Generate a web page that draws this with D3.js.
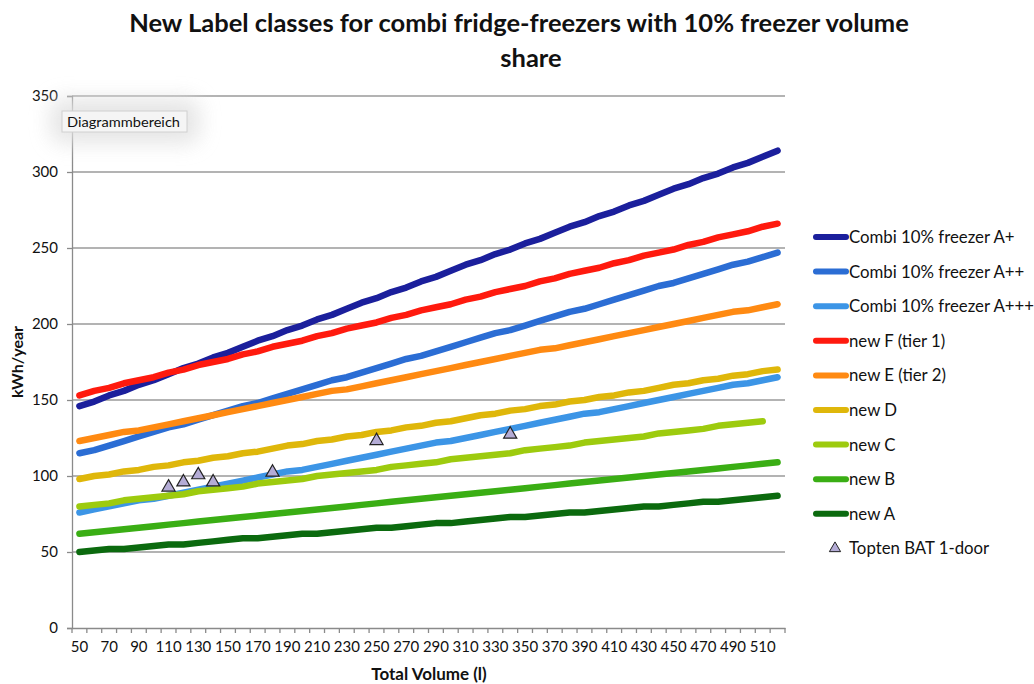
<!DOCTYPE html>
<html>
<head>
<meta charset="utf-8">
<script src="https://cdn.jsdelivr.net/npm/d3@7"></script>
<style>
  body { margin: 0; background: #fff; }
  text { font-family: Lato, "Open Sans", sans-serif; fill: #111; }
</style>
</head>
<body>
<svg id="chart" width="1034" height="684"></svg>
<script>
// categories: total volume in litres, 50..520
const volumes = d3.range(50, 521, 10);

const seriesNames = ['Combi 10% freezer A+', 'Combi 10% freezer A++', 'Combi 10% freezer A+++',
  'new F (tier 1)', 'new E (tier 2)', 'new D', 'new C', 'new B', 'new A'];

const comboAplus = [146,149,153,156,160,163,167,171,174,178,181,185,189,192,196,199,203,206,210,214,217,221,224,228,231,235,239,242,246,249,253,256,260,264,267,271,274,278,281,285,289,292,296,299,303,306,310,314];
const comboA2plus = [115,117,120,123,126,129,132,134,137,140,143,146,148,151,154,157,160,163,165,168,171,174,177,179,182,185,188,191,194,196,199,202,205,208,210,213,216,219,222,225,227,230,233,236,239,241,244,247];
const comboA3plus = [76,78,80,82,84,85,87,89,91,93,95,97,99,101,103,104,106,108,110,112,114,116,118,120,122,123,125,127,129,131,133,135,137,139,141,142,144,146,148,150,152,154,156,158,160,161,163,165];
const newF = [153,156,158,161,163,165,168,170,173,175,177,180,182,185,187,189,192,194,197,199,201,204,206,209,211,213,216,218,221,223,225,228,230,233,235,237,240,242,245,247,249,252,254,257,259,261,264,266];
const newE = [123,125,127,129,130,132,134,136,138,140,142,144,146,148,150,152,154,156,157,159,161,163,165,167,169,171,173,175,177,179,181,183,184,186,188,190,192,194,196,198,200,202,204,206,208,209,211,213];
const newD = [98,100,101,103,104,106,107,109,110,112,113,115,116,118,120,121,123,124,126,127,129,130,132,133,135,136,138,140,141,143,144,146,147,149,150,152,153,155,156,158,160,161,163,164,166,167,169,170];
// new C stops at 510 l
const newC = [80,81,82,84,85,86,87,88,90,91,92,93,95,96,97,98,100,101,102,103,104,106,107,108,109,111,112,113,114,115,117,118,119,120,122,123,124,125,126,128,129,130,131,133,134,135,136,null];
const newB = [62,63,64,65,66,67,68,69,70,71,72,73,74,75,76,77,78,79,80,81,82,83,84,85,86,87,88,89,90,91,92,93,94,95,96,97,98,99,100,101,102,103,104,105,106,107,108,109];
const newA = [50,51,52,52,53,54,55,55,56,57,58,59,59,60,61,62,62,63,64,65,66,66,67,68,69,69,70,71,72,73,73,74,75,76,76,77,78,79,80,80,81,82,83,83,84,85,86,87];

const seriesValues = [comboAplus, comboA2plus, comboA3plus, newF, newE, newD, newC, newB, newA];
const seriesColors = ['#1b1f9c', '#2b6dd4', '#3c95e6', '#ff1a0e', '#ff8a12', '#dfb70a', '#9dcb0e', '#3aae14', '#0b6a0e'];

// Topten BAT 1-door products
const toptenVolumes = [110, 120, 130, 140, 180, 250, 340];
const toptenValues = [92.6, 96, 100.7, 96, 102.4, 123.2, 127.4];

const yTicks = [0, 50, 100, 150, 200, 250, 300, 350];

const svg = d3.select('#chart');
const plotLeft = 72, plotRight = 785, plotTop = 96, plotBottom = 628;

const x = d3.scaleBand().domain(volumes).range([plotLeft, plotRight]);
const y = d3.scaleLinear().domain([0, 350]).range([plotBottom, plotTop]);
const cx = v => x(v) + x.bandwidth() / 2;

// title
svg.append('text').attr('x', 519).attr('y', 32).attr('text-anchor', 'middle')
  .attr('font-size', 25.5).attr('font-weight', 'bold')
  .text('New Label classes for combi fridge-freezers with 10% freezer volume');
svg.append('text').attr('x', 531).attr('y', 67).attr('text-anchor', 'middle')
  .attr('font-size', 25.5).attr('font-weight', 'bold').text('share');

// grid lines
svg.append('g').selectAll('line').data(yTicks.slice(1)).enter().append('line')
  .attr('x1', plotLeft).attr('x2', plotRight)
  .attr('y1', d => y(d)).attr('y2', d => y(d))
  .attr('stroke', '#9a9a9a').attr('stroke-width', 1.3);

// y axis
const yAxis = d3.axisLeft(y).tickValues(yTicks).tickSize(5).tickPadding(9);
const gy = svg.append('g').attr('transform', `translate(${plotLeft},0)`).call(yAxis);
gy.select('.domain').attr('stroke', '#8a8a8a').attr('stroke-width', 1.3);
gy.selectAll('.tick line').attr('stroke', '#8a8a8a').attr('stroke-width', 1.3);
gy.selectAll('.tick text').attr('font-size', 15).attr('font-family', 'Lato').attr('fill', '#111');

// x axis
const xAxis = d3.axisBottom(x).tickSize(0).tickPadding(13).tickSizeOuter(0)
  .tickFormat(d => ((d - 50) % 20 === 0 && d <= 510) ? d : '');
const gx = svg.append('g').attr('transform', `translate(0,${plotBottom})`).call(xAxis);
gx.select('.domain').attr('stroke', '#8a8a8a').attr('stroke-width', 1.3);
gx.selectAll('.tick text').attr('font-size', 15).attr('font-family', 'Lato').attr('fill', '#111');
// tick marks on the category boundaries
gx.append('g').selectAll('line').data(volumes.concat([null])).enter().append('line')
  .attr('x1', d => d === null ? plotRight : x(d)).attr('x2', d => d === null ? plotRight : x(d))
  .attr('y1', 0).attr('y2', 5).attr('stroke', '#8a8a8a').attr('stroke-width', 1.3);

// axis titles
svg.append('text').attr('transform', 'translate(23,362) rotate(-90)').attr('text-anchor', 'middle')
  .attr('font-size', 16).attr('font-weight', 'bold').text('kWh/year');
svg.append('text').attr('x', 429).attr('y', 680).attr('text-anchor', 'middle')
  .attr('font-size', 17).attr('font-weight', 'bold').text('Total Volume (l)');

// series lines
const line = d3.line()
  .defined(d => d.v !== null)
  .x(d => cx(d.vol))
  .y(d => y(d.v));

svg.append('g').selectAll('path').data(seriesValues).enter().append('path')
  .attr('d', vals => line(vals.map((v, i) => ({ vol: volumes[i], v: v }))))
  .attr('fill', 'none')
  .attr('stroke', (d, i) => seriesColors[i])
  .attr('stroke-width', 6.5)
  .attr('stroke-linecap', 'round')
  .attr('stroke-linejoin', 'round');

// Topten markers
const tri = d3.symbol().type(d3.symbolTriangle).size(75);
svg.append('g').selectAll('path').data(toptenValues).enter().append('path')
  .attr('d', tri)
  .attr('transform', (d, i) => `translate(${cx(toptenVolumes[i])},${y(d)})`)
  .attr('fill', '#b4acd6').attr('stroke', '#222').attr('stroke-width', 1.2);

// legend
const legend = svg.append('g');
seriesNames.forEach((name, i) => {
  const ly = 237 + i * 34.6;
  legend.append('line').attr('x1', 816).attr('x2', 846).attr('y1', ly).attr('y2', ly)
    .attr('stroke', seriesColors[i]).attr('stroke-width', 6).attr('stroke-linecap', 'round');
  legend.append('text').attr('x', 849).attr('y', ly + 6).attr('font-size', 16.8).text(name);
});
const ty = 237 + 9 * 34.6;
legend.append('path').attr('d', d3.symbol().type(d3.symbolTriangle).size(55))
  .attr('transform', `translate(835,${ty})`)
  .attr('fill', '#b4acd6').attr('stroke', '#222').attr('stroke-width', 1);
legend.append('text').attr('x', 849).attr('y', ty + 6).attr('font-size', 16.8).text('Topten BAT 1-door');

// "Diagrammbereich" tooltip
const defs = svg.append('defs');
const f = defs.append('filter').attr('id', 'glow').attr('x', '-50%').attr('y', '-100%').attr('width', '200%').attr('height', '300%');
f.append('feGaussianBlur').attr('stdDeviation', 10);
svg.append('rect').attr('x', 50).attr('y', 98).attr('width', 150).attr('height', 46)
  .attr('rx', 14).attr('fill', '#e2e2e2').attr('filter', 'url(#glow)').attr('opacity', 0.85);
svg.append('rect').attr('x', 62).attr('y', 111).attr('width', 125).attr('height', 21)
  .attr('fill', '#f5f5f5').attr('stroke', '#d0d0d0').attr('stroke-width', 1);
svg.append('text').attr('x', 67).attr('y', 126.5).attr('font-size', 14)
  .attr('font-family', '"DejaVu Sans", sans-serif').attr('fill', '#222')
  .attr('textLength', 113).attr('lengthAdjust', 'spacingAndGlyphs').text('Diagrammbereich');
</script>
</body>
</html>
